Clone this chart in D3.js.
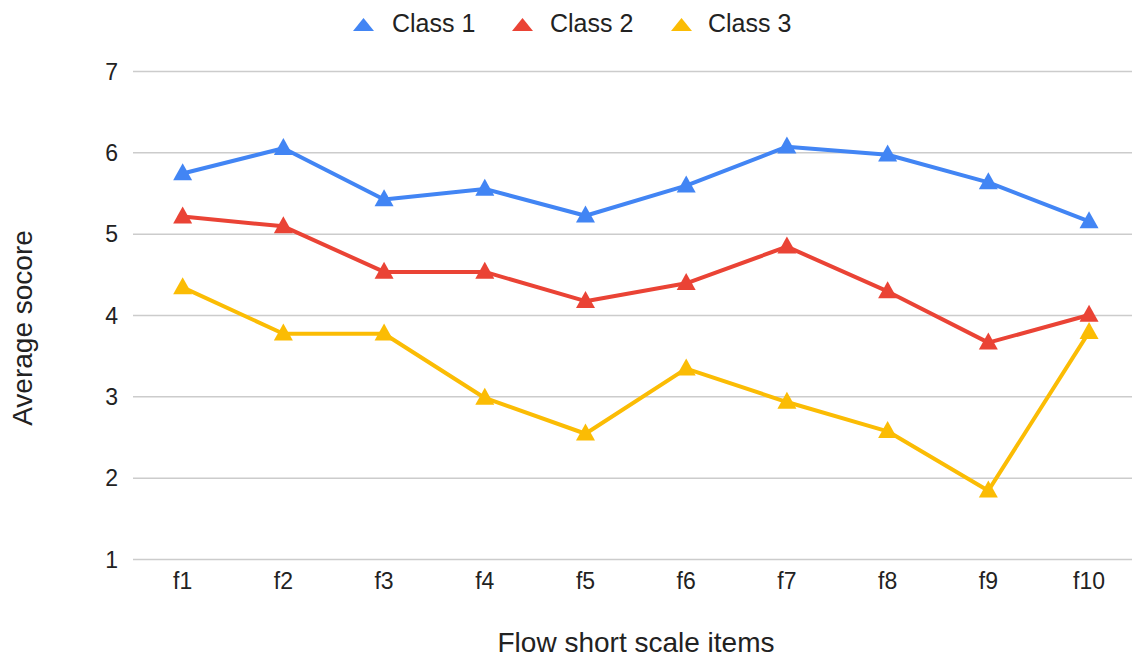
<!DOCTYPE html>
<html>
<head>
<meta charset="utf-8">
<script src="https://cdn.jsdelivr.net/npm/d3@7"></script>
<style>
  html, body { margin: 0; padding: 0; background: #fff; }
  svg { display: block; font-family: Arial, "Liberation Sans", sans-serif; }
</style>
</head>
<body>
<svg id="chart" width="1132" height="659"></svg>
<script>
const categories = ["f1", "f2", "f3", "f4", "f5", "f6", "f7", "f8", "f9", "f10"];
const seriesNames = ["Class 1", "Class 2", "Class 3"];
const class1 = [5.74, 6.05, 5.42, 5.55, 5.22, 5.59, 6.07, 5.97, 5.63, 5.15];
const class2 = [5.21, 5.09, 4.53, 4.53, 4.17, 4.39, 4.84, 4.29, 3.66, 4.00];
const class3 = [4.34, 3.77, 3.77, 2.98, 2.54, 3.34, 2.93, 2.57, 1.84, 3.79];
const colors = ["#4285F4", "#EA4335", "#FBBC04"];
const yTicks = [1, 2, 3, 4, 5, 6, 7];
const xTitle = "Flow short scale items";
const yTitle = "Average socore";

const series = [class1, class2, class3];

const svg = d3.select("#chart");
const plotLeft = 133, plotRight = 1132, plotTop = 71, plotBottom = 559;

const x = d3.scaleBand().domain(categories).range([132.3, 1139.4]);
const y = d3.scaleLinear().domain([1, 7]).range([plotBottom, plotTop]);

// grid + y axis
const yAxis = d3.axisLeft(y).tickValues(yTicks).tickFormat(d3.format("d"))
  .tickSize(-(plotRight - plotLeft)).tickPadding(15);
const yG = svg.append("g").attr("transform", `translate(${plotLeft},0)`).call(yAxis);
yG.select(".domain").remove();
yG.selectAll(".tick line").attr("stroke", "#cccccc").attr("stroke-width", 1.5);
yG.selectAll(".tick text").attr("fill", "#222").attr("font-size", 23)
  .attr("font-family", "Arial, 'Liberation Sans', sans-serif").attr("dy", "0.36em");

// x axis labels
const xAxis = d3.axisBottom(x).tickSize(0).tickPadding(14);
const xG = svg.append("g").attr("transform", `translate(0,${plotBottom})`).call(xAxis);
xG.select(".domain").remove();
xG.selectAll(".tick text").attr("fill", "#222").attr("font-size", 23)
  .attr("font-family", "Arial, 'Liberation Sans', sans-serif");

// axis titles
svg.append("text").attr("x", 636).attr("y", 652).attr("text-anchor", "middle")
  .attr("font-size", 28).attr("fill", "#222").text(xTitle);
svg.append("text").attr("transform", "translate(32,328) rotate(-90)")
  .attr("text-anchor", "middle").attr("font-size", 28).attr("fill", "#222").text(yTitle);

// lines and markers
const line = d3.line().x((d, i) => x(categories[i]) + x.bandwidth() / 2).y(d => y(d));
const tri = (cx, cy, w, h) => {
  const t = cy - h * 0.6, b = cy + h * 0.4;
  return `M${cx},${t}L${cx + w / 2},${b}L${cx - w / 2},${b}Z`;
};
series.forEach((vals, si) => {
  svg.append("path").datum(vals).attr("d", line).attr("fill", "none")
    .attr("stroke", colors[si]).attr("stroke-width", 4).attr("stroke-linejoin", "round");
});
series.forEach((vals, si) => {
  svg.append("g").selectAll("path").data(vals).join("path")
    .attr("d", (d, i) => tri(x(categories[i]) + x.bandwidth() / 2, y(d), 19, 17))
    .attr("fill", colors[si]);
});

// legend
const legendItems = [
  { tx: 363.5, lx: 392 },
  { tx: 522.5, lx: 550 },
  { tx: 681.5, lx: 708 }
];
seriesNames.forEach((name, i) => {
  svg.append("path").attr("d", `M${legendItems[i].tx},18L${legendItems[i].tx + 10.5},31L${legendItems[i].tx - 10.5},31Z`)
    .attr("fill", colors[i]);
  svg.append("text").attr("x", legendItems[i].lx).attr("y", 32).attr("font-size", 25)
    .attr("fill", "#222").text(name);
});
</script>
</body>
</html>
